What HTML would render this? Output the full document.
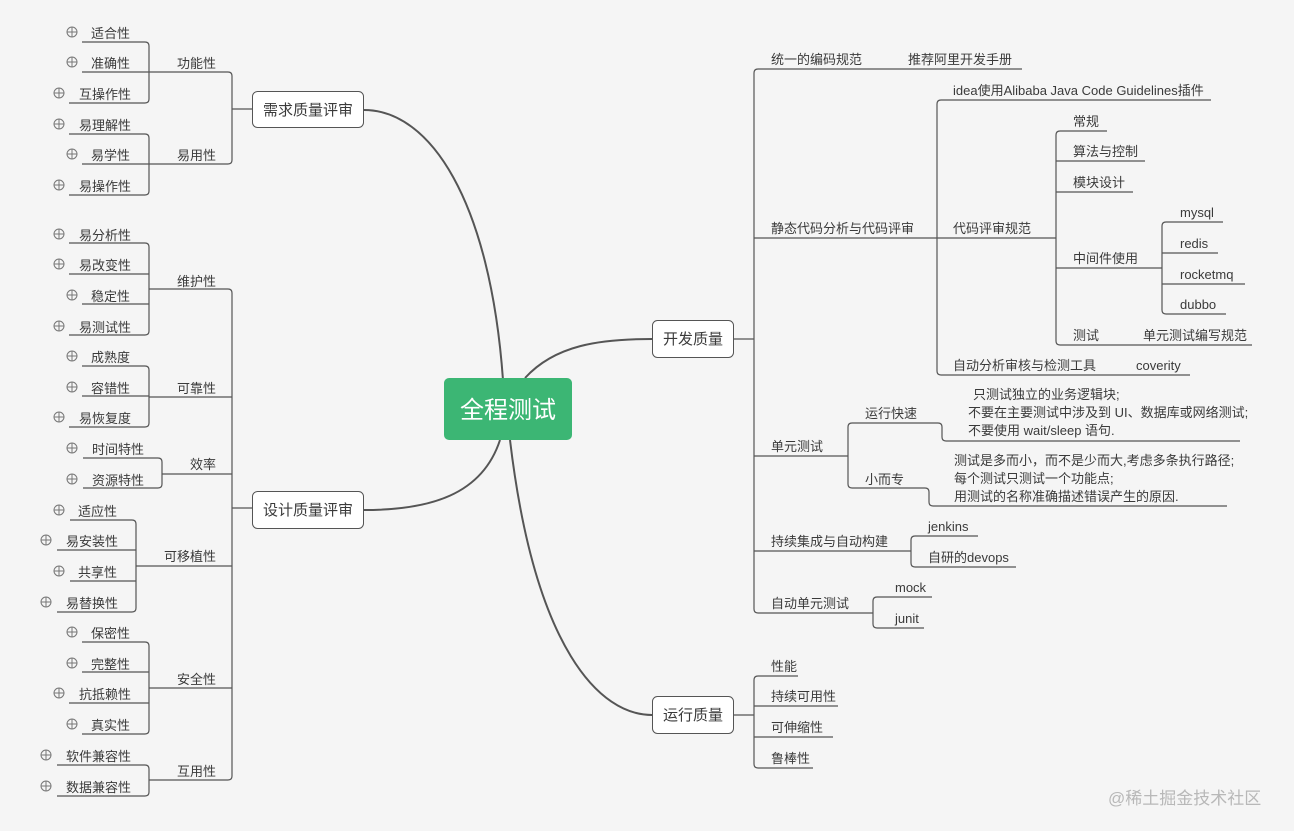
<!DOCTYPE html>
<html><head><meta charset="utf-8"><style>
html,body{margin:0;padding:0;background:#f5f5f5;}
svg{display:block;font-family:"Liberation Sans","Noto Sans CJK SC",sans-serif;}
text{fill:#3a3a3a;font-size:13px;}
.l{fill:none;stroke:#555;stroke-width:1.2;}
.c{fill:none;stroke:#555;stroke-width:2;}
.p{fill:none;stroke:#777;stroke-width:1;}
</style></head><body>
<svg width="1294" height="831" viewBox="0 0 1294 831" xmlns="http://www.w3.org/2000/svg">
<rect width="1294" height="831" fill="#f5f5f5"/>
<path class="c" d="M503,380 C490,200 430,110 364,110"/>
<path class="c" d="M500,440 C482,495 430,510 364,510"/>
<path class="c" d="M525,378 C555,345 600,339 652,339"/>
<path class="c" d="M510,440 C535,650 600,715 652,715"/>

<path class="l" d="M82,42 H145 Q149,42 149,46 V99 Q149,103 145,103 H69 M82,72 H149"/>
<path class="l" d="M69,134 H145 Q149,134 149,138 V191 Q149,195 145,195 H69 M82,164 H149"/>
<path class="l" d="M149,72 H228 Q232,72 232,76 V160 Q232,164 228,164 H149 M232,109 H252"/>
<path class="l" d="M69,243 H145 Q149,243 149,247 V331 Q149,335 145,335 H69 M69,274 H149 M82,304 H149"/>
<path class="l" d="M82,366 H145 Q149,366 149,370 V423 Q149,427 145,427 H69 M82,396 H149"/>
<path class="l" d="M83,458 H158 Q162,458 162,462 V484 Q162,488 158,488 H83"/>
<path class="l" d="M70,520 H132 Q136,520 136,524 V608 Q136,612 132,612 H57 M57,550 H136 M70,581 H136"/>
<path class="l" d="M82,642 H145 Q149,642 149,646 V730 Q149,734 145,734 H82 M82,672 H149 M69,703 H149"/>
<path class="l" d="M57,765 H145 Q149,765 149,769 V792 Q149,796 145,796 H57"/>
<path class="l" d="M149,289 H228 Q232,289 232,293 V776 Q232,780 228,780 H149 M149,397 H232 M162,474 H232 M136,566 H232 M149,688 H232 M232,508 H252"/>

<g class="p">
<circle cx="72" cy="32" r="5"/><path d="M67,32H77M72,27V37"/>
<circle cx="72" cy="62" r="5"/><path d="M67,62H77M72,57V67"/>
<circle cx="59" cy="93" r="5"/><path d="M54,93H64M59,88V98"/>
<circle cx="59" cy="124" r="5"/><path d="M54,124H64M59,119V129"/>
<circle cx="72" cy="154" r="5"/><path d="M67,154H77M72,149V159"/>
<circle cx="59" cy="185" r="5"/><path d="M54,185H64M59,180V190"/>
<circle cx="59" cy="234" r="5"/><path d="M54,234H64M59,229V239"/>
<circle cx="59" cy="264" r="5"/><path d="M54,264H64M59,259V269"/>
<circle cx="72" cy="295" r="5"/><path d="M67,295H77M72,290V300"/>
<circle cx="59" cy="326" r="5"/><path d="M54,326H64M59,321V331"/>
<circle cx="72" cy="356" r="5"/><path d="M67,356H77M72,351V361"/>
<circle cx="72" cy="387" r="5"/><path d="M67,387H77M72,382V392"/>
<circle cx="59" cy="417" r="5"/><path d="M54,417H64M59,412V422"/>
<circle cx="72" cy="448" r="5"/><path d="M67,448H77M72,443V453"/>
<circle cx="72" cy="479" r="5"/><path d="M67,479H77M72,474V484"/>
<circle cx="59" cy="510" r="5"/><path d="M54,510H64M59,505V515"/>
<circle cx="46" cy="540" r="5"/><path d="M41,540H51M46,535V545"/>
<circle cx="59" cy="571" r="5"/><path d="M54,571H64M59,566V576"/>
<circle cx="46" cy="602" r="5"/><path d="M41,602H51M46,597V607"/>
<circle cx="72" cy="632" r="5"/><path d="M67,632H77M72,627V637"/>
<circle cx="72" cy="663" r="5"/><path d="M67,663H77M72,658V668"/>
<circle cx="59" cy="693" r="5"/><path d="M54,693H64M59,688V698"/>
<circle cx="72" cy="724" r="5"/><path d="M67,724H77M72,719V729"/>
<circle cx="46" cy="755" r="5"/><path d="M41,755H51M46,750V760"/>
<circle cx="46" cy="786" r="5"/><path d="M41,786H51M46,781V791"/>
</g>

<text x="91" y="38">适合性</text>
<text x="91" y="68">准确性</text>
<text x="79" y="99">互操作性</text>
<text x="79" y="130">易理解性</text>
<text x="91" y="160">易学性</text>
<text x="79" y="191">易操作性</text>
<text x="177" y="68">功能性</text>
<text x="177" y="160">易用性</text>
<text x="79" y="240">易分析性</text>
<text x="79" y="270">易改变性</text>
<text x="91" y="301">稳定性</text>
<text x="79" y="332">易测试性</text>
<text x="91" y="362">成熟度</text>
<text x="91" y="393">容错性</text>
<text x="79" y="423">易恢复度</text>
<text x="92" y="454">时间特性</text>
<text x="92" y="485">资源特性</text>
<text x="78" y="516">适应性</text>
<text x="66" y="546">易安装性</text>
<text x="78" y="577">共享性</text>
<text x="66" y="608">易替换性</text>
<text x="91" y="638">保密性</text>
<text x="91" y="669">完整性</text>
<text x="79" y="699">抗抵赖性</text>
<text x="91" y="730">真实性</text>
<text x="66" y="761">软件兼容性</text>
<text x="66" y="792">数据兼容性</text>
<text x="177" y="286">维护性</text>
<text x="177" y="393">可靠性</text>
<text x="190" y="469">效率</text>
<text x="164" y="561">可移植性</text>
<text x="177" y="684">安全性</text>
<text x="177" y="776">互用性</text>

<path class="l" d="M1022,69 H758 Q754,69 754,73 V609 Q754,613 758,613 H873 M754,238 H937 M754,456 H848 M754,551 H911 M734,339 H754"/>
<path class="l" d="M1211,100 H941 Q937,100 937,104 V371 Q937,375 941,375 H1190 M937,238 H1056"/>
<path class="l" d="M1107,131 H1060 Q1056,131 1056,135 V341 Q1056,345 1060,345 H1252 M1056,161 H1145 M1056,192 H1133 M1056,268 H1162"/>
<path class="l" d="M1223,222 H1166 Q1162,222 1162,226 V310 Q1162,314 1166,314 H1226 M1162,253 H1218 M1162,284 H1245"/>
<path class="l" d="M1240,441 H946 Q942,441 942,437 V427 Q942,423 938,423 H852 Q848,423 848,427 V484 Q848,488 852,488 H925 Q929,488 929,492 V502 Q929,506 933,506 H1227"/>
<path class="l" d="M978,536 H915 Q911,536 911,540 V563 Q911,567 915,567 H1016"/>
<path class="l" d="M932,597 H877 Q873,597 873,601 V624 Q873,628 877,628 H924"/>
<path class="l" d="M798,676 H758 Q754,676 754,680 V764 Q754,768 758,768 H813 M754,706 H838 M754,737 H833 M734,715 H754"/>

<text x="771" y="64">统一的编码规范</text>
<text x="908" y="64">推荐阿里开发手册</text>
<text x="953" y="95">idea使用Alibaba Java Code Guidelines插件</text>
<text x="771" y="233">静态代码分析与代码评审</text>
<text x="953" y="233">代码评审规范</text>
<text x="1073" y="126">常规</text>
<text x="1073" y="156">算法与控制</text>
<text x="1073" y="187">模块设计</text>
<text x="1073" y="263">中间件使用</text>
<text x="1180" y="217">mysql</text>
<text x="1180" y="248">redis</text>
<text x="1180" y="279">rocketmq</text>
<text x="1180" y="309">dubbo</text>
<text x="1073" y="340">测试</text>
<text x="1143" y="340">单元测试编写规范</text>
<text x="953" y="370">自动分析审核与检测工具</text>
<text x="1136" y="370">coverity</text>
<text x="771" y="451">单元测试</text>
<text x="865" y="418">运行快速</text>
<text x="865" y="484">小而专</text>
<text x="973" y="399">只测试独立的业务逻辑块;</text>
<text x="968" y="417">不要在主要测试中涉及到 UI、数据库或网络测试;</text>
<text x="968" y="435">不要使用 wait/sleep 语句.</text>
<text x="954" y="465">测试是多而小，而不是少而大,考虑多条执行路径;</text>
<text x="954" y="483">每个测试只测试一个功能点;</text>
<text x="954" y="501">用测试的名称准确描述错误产生的原因.</text>
<text x="771" y="546">持续集成与自动构建</text>
<text x="928" y="531">jenkins</text>
<text x="928" y="562">自研的devops</text>
<text x="771" y="608">自动单元测试</text>
<text x="895" y="592">mock</text>
<text x="895" y="623">junit</text>
<text x="771" y="671">性能</text>
<text x="771" y="701">持续可用性</text>
<text x="771" y="732">可伸缩性</text>
<text x="771" y="763">鲁棒性</text>

<rect x="252.5" y="91.5" width="111" height="36" rx="5" fill="#fff" stroke="#555"/>
<text x="308" y="115" text-anchor="middle" style="font-size:15px">需求质量评审</text>
<rect x="252.5" y="491.5" width="111" height="37" rx="5" fill="#fff" stroke="#555"/>
<text x="308" y="515" text-anchor="middle" style="font-size:15px">设计质量评审</text>
<rect x="652.5" y="320.5" width="81" height="37" rx="5" fill="#fff" stroke="#555"/>
<text x="693" y="344" text-anchor="middle" style="font-size:15px">开发质量</text>
<rect x="652.5" y="696.5" width="81" height="37" rx="5" fill="#fff" stroke="#555"/>
<text x="693" y="720" text-anchor="middle" style="font-size:15px">运行质量</text>
<rect x="444" y="378" width="128" height="62" rx="5" fill="#3cb674"/>
<text x="508" y="418" text-anchor="middle" style="font-size:24px;fill:#fff">全程测试</text>

<text x="1108" y="804" style="font-size:17px;fill:#b8b8b8">@稀土掘金技术社区</text>
</svg>
</body></html>
